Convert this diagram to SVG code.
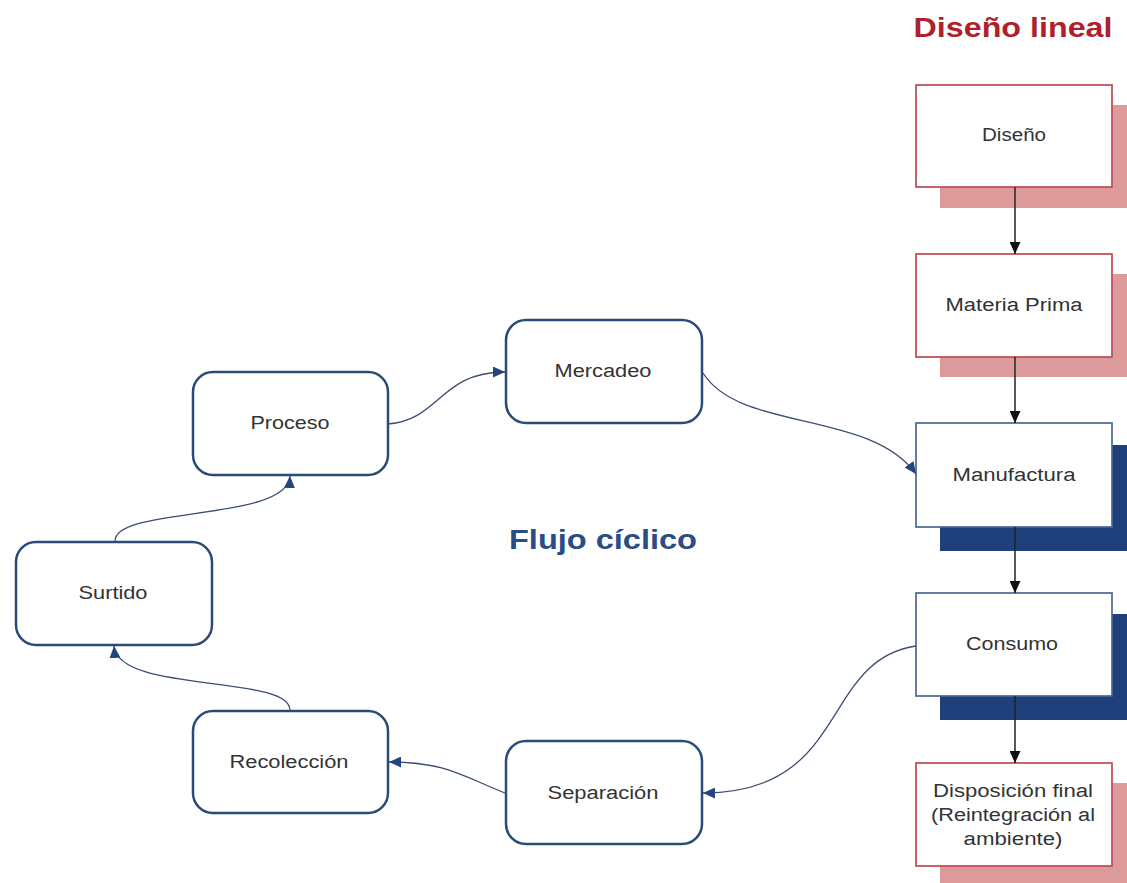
<svg xmlns="http://www.w3.org/2000/svg" width="1127" height="883" viewBox="0 0 1127 883">
<style>
.bg{fill:#ffffff}
.rbox{fill:#ffffff;stroke:#bf4a4f;stroke-width:1.7}
.rsh{fill:#dc9a9a}
.bbox{fill:#ffffff;stroke:#4a6894;stroke-width:1.7}
.bsh{fill:#1f3f7a}
.rr{fill:#ffffff;stroke:#2b4a78;stroke-width:2.5}
.t{font-family:"Liberation Sans",Arial,sans-serif;font-size:18px;fill:#333333;text-anchor:middle}
.title{font-family:"Liberation Sans",Arial,sans-serif;font-size:28px;font-weight:bold;text-anchor:middle}
.vline{stroke:#222222;stroke-width:1.5;fill:none}
.curve{stroke:#3b4d70;stroke-width:1.3;fill:none}
</style>
<defs>
<marker id="ak" markerWidth="13" markerHeight="11" refX="12" refY="5.5" orient="auto" markerUnits="userSpaceOnUse">
<path d="M0,0 L12,5.5 L0,11 Z" fill="#111111"/>
</marker>
<marker id="ab" markerWidth="13" markerHeight="11" refX="12" refY="5.5" orient="auto" markerUnits="userSpaceOnUse">
<path d="M0,0 L12,5.5 L0,11 Z" fill="#23457d"/>
</marker>
</defs>
<rect class="bg" x="0" y="0" width="1127" height="883"/>

<text class="title" x="1013" y="37" fill="#b01f2e" textLength="199" lengthAdjust="spacingAndGlyphs">Diseño lineal</text>
<text class="title" x="603" y="549" fill="#2a4d85" textLength="188" lengthAdjust="spacingAndGlyphs">Flujo cíclico</text>

<g id="diseno">
<rect class="rsh" x="940" y="105" width="196" height="103"/>
<rect class="rbox" x="916" y="85" width="196" height="102"/>
<text class="t" x="1014" y="141" textLength="64" lengthAdjust="spacingAndGlyphs">Diseño</text>
</g>
<g id="materia">
<rect class="rsh" x="940" y="274" width="196" height="103"/>
<rect class="rbox" x="916" y="254" width="196" height="103"/>
<text class="t" x="1014" y="311" textLength="137" lengthAdjust="spacingAndGlyphs">Materia Prima</text>
</g>
<g id="manufactura">
<rect class="bsh" x="940" y="445" width="196" height="106"/>
<rect class="bbox" x="916" y="423" width="196" height="104"/>
<text class="t" x="1014" y="481" textLength="123" lengthAdjust="spacingAndGlyphs">Manufactura</text>
</g>
<g id="consumo">
<rect class="bsh" x="940" y="614" width="196" height="106"/>
<rect class="bbox" x="916" y="593" width="196" height="103"/>
<text class="t" x="1012" y="650" textLength="92" lengthAdjust="spacingAndGlyphs">Consumo</text>
</g>
<g id="disposicion">
<rect class="rsh" x="940" y="783" width="196" height="103"/>
<rect class="rbox" x="916" y="763" width="196" height="103"/>
<text class="t" x="1013" y="797" textLength="160" lengthAdjust="spacingAndGlyphs">Disposición final</text>
<text class="t" x="1013" y="821" textLength="164" lengthAdjust="spacingAndGlyphs">(Reintegración al</text>
<text class="t" x="1013" y="845" textLength="99" lengthAdjust="spacingAndGlyphs">ambiente)</text>
</g>

<g id="proceso">
<rect class="rr" x="193" y="372" width="195" height="103" rx="20" ry="20"/>
<text class="t" x="290" y="429" textLength="79" lengthAdjust="spacingAndGlyphs">Proceso</text>
</g>
<g id="mercadeo">
<rect class="rr" x="506" y="320" width="196" height="103" rx="20" ry="20"/>
<text class="t" x="603" y="377" textLength="97" lengthAdjust="spacingAndGlyphs">Mercadeo</text>
</g>
<g id="surtido">
<rect class="rr" x="16" y="542" width="196" height="103" rx="20" ry="20"/>
<text class="t" x="113" y="599" textLength="69" lengthAdjust="spacingAndGlyphs">Surtido</text>
</g>
<g id="recoleccion">
<rect class="rr" x="193" y="711" width="195" height="102" rx="20" ry="20"/>
<text class="t" x="289" y="768" textLength="119" lengthAdjust="spacingAndGlyphs">Recolección</text>
</g>
<g id="separacion">
<rect class="rr" x="506" y="741" width="196" height="103" rx="20" ry="20"/>
<text class="t" x="603" y="799" textLength="111" lengthAdjust="spacingAndGlyphs">Separación</text>
</g>

<g id="connectors">
<line class="vline" x1="1015" y1="187" x2="1015" y2="254" marker-end="url(#ak)"/>
<line class="vline" x1="1015" y1="357" x2="1015" y2="423" marker-end="url(#ak)"/>
<line class="vline" x1="1015" y1="527" x2="1015" y2="593" marker-end="url(#ak)"/>
<line class="vline" x1="1015" y1="696" x2="1015" y2="763" marker-end="url(#ak)"/>
<path class="curve" d="M388,424 C440,420 440,372 505,372" marker-end="url(#ab)"/>
<path class="curve" d="M703,373 C740,432 870,410 916,474" marker-end="url(#ab)"/>
<path class="curve" d="M916,646 C820,660 850,793 703,793" marker-end="url(#ab)"/>
<path class="curve" d="M505,793 C460,775 445,762 389,762" marker-end="url(#ab)"/>
<path class="curve" d="M290,711 C292,674 118,694 114,646" marker-end="url(#ab)"/>
<path class="curve" d="M115,542 C112,506 288,522 290,476" marker-end="url(#ab)"/>
</g>
</svg>
